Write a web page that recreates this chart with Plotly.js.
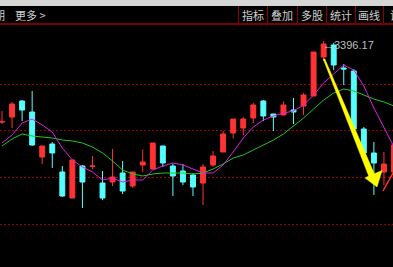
<!DOCTYPE html>
<html>
<head>
<meta charset="utf-8">
<script src="https://cdn.plot.ly/plotly-3.0.1.min.js"></script>
<style>
html,body{margin:0;padding:0;background:#000;}
#chart{width:393px;height:267px;}
</style>
</head>
<body>
<div id="chart"></div>
<script>
// ---- data ----
const days = [0,1,2,3,4,5,6,7,8,9,10,11,12,13,14,15,16,17,18,19,20,21,22,23,24,25,26,27,28,29,30,31,32,33,34,35,36,37,38,39];
const openP  = [3309.61,3314.97,3332.11,3320.32,3272.11,3286.04,3256.04,3228.18,3262.47,3261.93,3244.25,3245.32,3254.97,3241.04,3263.54,3259.25,3283.90,3262.47,3257.11,3252.82,3244.25,3263.54,3277.47,3297.82,3303.18,3313.89,3332.11,3318.18,3317.11,3322.47,3326.75,3337.47,3379.25,3392.11,3367.46,3364.25,3302.11,3276.40,3256.04,3256.04];
const highP  = [3321.39,3331.04,3333.18,3342.82,3283.90,3288.18,3262.47,3268.90,3263.54,3273.18,3257.11,3280.68,3267.82,3256.04,3280.15,3287.11,3283.90,3265.15,3264.61,3254.97,3264.61,3278.54,3299.97,3312.82,3314.97,3329.97,3333.18,3318.18,3331.57,3335.32,3340.68,3384.61,3396.17,3394.25,3371.75,3366.39,3304.25,3288.18,3277.47,3284.97];
const lowP   = [3307.47,3303.18,3310.68,3283.90,3264.61,3260.33,3229.25,3228.18,3217.47,3259.25,3226.04,3241.04,3232.47,3238.90,3256.04,3259.25,3261.40,3230.33,3242.11,3230.33,3220.68,3261.40,3277.47,3291.93,3295.68,3308.54,3310.68,3299.97,3317.11,3307.47,3317.11,3337.47,3374.96,3365.32,3349.25,3302.11,3276.40,3231.40,3242.11,3252.82];
const closeP = [3309.93,3328.89,3322.47,3284.97,3283.90,3276.40,3230.33,3268.90,3245.32,3262.47,3228.18,3250.68,3235.68,3256.04,3266.75,3287.11,3265.68,3251.75,3245.32,3239.97,3261.40,3273.18,3296.75,3312.82,3312.82,3327.82,3316.04,3314.97,3327.82,3320.32,3338.54,3384.61,3393.18,3370.68,3366.39,3302.11,3276.40,3265.68,3264.61,3284.97];
const maShort = [3287.11,3295.68,3308.54,3312.82,3306.39,3298.90,3281.75,3268.90,3261.40,3256.04,3247.47,3249.61,3245.32,3247.47,3247.47,3258.18,3262.47,3265.68,3263.54,3259.25,3254.97,3254.97,3263.54,3277.47,3292.47,3304.25,3311.75,3316.04,3319.25,3321.39,3327.82,3338.54,3351.39,3361.04,3370.68,3365.32,3348.18,3324.61,3303.18,3282.82];
const maLong  = [3283.90,3291.40,3296.75,3294.61,3293.54,3292.47,3290.32,3289.25,3287.11,3282.82,3276.40,3267.82,3258.18,3253.90,3251.75,3253.90,3254.97,3254.97,3254.97,3253.90,3254.97,3259.25,3264.61,3271.04,3274.25,3279.61,3284.97,3290.32,3296.75,3305.32,3313.89,3323.54,3333.18,3340.68,3344.97,3342.82,3338.54,3334.25,3331.04,3326.75];
const gridPrices = [3200,3250,3300,3350];
const maxLabel = "←3396.17";
const maxIndex = 32;
const maxValue = 3396.17;
const leftMenu = ["周期", "更多 >"];
const rightMenu = ["指标","叠加","多股","统计","画线","设置"];

// ---- helpers for the toolbar (paper coordinates of the 393x267 page) ----
const W = 393, H = 267, TOP = 24;
const px = x => x / W;
const py = y => (H - y) / (H - TOP);

const cjk = '"Noto Sans CJK SC", "Noto Sans", sans-serif';
const textColor = '#cfcfcf';

const annotations = [];
annotations.push({xref:'paper', yref:'paper', x:px(7), y:py(15), xanchor:'right', yanchor:'middle',
  text:leftMenu[0], showarrow:false, font:{family:cjk, size:11, color:textColor}});
annotations.push({xref:'paper', yref:'paper', x:px(13), y:py(15), xanchor:'left', yanchor:'middle',
  text:leftMenu[1], showarrow:false, font:{family:cjk, size:11, color:textColor}});
const btnCenters = [252.5, 282, 311.5, 340.5, 369, 401];
rightMenu.forEach((t, i) => {
  annotations.push({xref:'paper', yref:'paper', x:px(btnCenters[i]), y:py(15), xanchor:'center', yanchor:'middle',
    text:t, showarrow:false, font:{family:cjk, size:11, color:textColor}});
});
annotations.push({xref:'x', yref:'y', x:maxIndex, y:maxValue, xanchor:'left', yanchor:'middle',
  xshift:-3, yshift:-4, text:maxLabel, showarrow:false,
  font:{family:'"Liberation Sans", Arial, sans-serif', size:11, color:'#bdbdbd'}});

const shapes = [];
// light strip at the very top
shapes.push({type:'rect', xref:'paper', yref:'paper', x0:0, x1:1, y0:py(6), y1:py(0),
  fillcolor:'#d6d6d6', line:{width:0}, layer:'above'});
// dark red rule under the toolbar
shapes.push({type:'rect', xref:'paper', yref:'paper', x0:0, x1:1, y0:py(25), y1:py(23),
  fillcolor:'#7c0000', line:{width:0}, layer:'above'});
// button separators
[238, 267, 297, 326, 355, 383].forEach(x => {
  shapes.push({type:'line', xref:'paper', yref:'paper', x0:px(x+0.5), x1:px(x+0.5), y0:py(23), y1:py(6),
    line:{color:'#8f0000', width:1}, layer:'above'});
});
// yellow drawn arrow (data coordinates)
shapes.push({type:'path', xref:'x', yref:'y', layer:'above',
  path:'M 31.97 3376.8 L 32.11 3377.4 L 37.04 3254.1 L 37.81 3257.6 L 37.31 3240.0 L 36.12 3249.6 L 36.48 3251.8 Z',
  fillcolor:'#ffff00', line:{color:'#ffff00', width:0.5}});
// thin red drawn line
shapes.push({type:'line', xref:'x', yref:'y', layer:'above',
  x0:37.91, y0:3235.7, x1:39.4, y1:3264.6, line:{color:'#ff3030', width:1.5}});

const traces = [
  {type:'candlestick', x:days, open:openP, high:highP, low:lowP, close:closeP,
   increasing:{line:{color:'#ff3333', width:1}, fillcolor:'#ff3333'},
   decreasing:{line:{color:'#55ffff', width:1}, fillcolor:'#55ffff'},
   whiskerwidth:0, hoverinfo:'skip', showlegend:false},
  {type:'scatter', mode:'lines', x:days, y:maLong, line:{color:'#1ecb1e', width:1}, hoverinfo:'skip', showlegend:false},
  {type:'scatter', mode:'lines', x:days, y:maShort, line:{color:'#e21ee2', width:1}, hoverinfo:'skip', showlegend:false}
];

const layout = {
  width:W, height:H,
  margin:{l:0, r:0, t:TOP, b:0, pad:0},
  paper_bgcolor:'#000', plot_bgcolor:'#000',
  showlegend:false,
  boxgap:0.3,
  xaxis:{range:[-0.2, 38.9], visible:false, rangeslider:{visible:false}, fixedrange:true},
  yaxis:{range:[3154.25, 3414.61], tickmode:'array', tickvals:gridPrices, showticklabels:false,
    ticks:'', showgrid:true, gridcolor:'#9a0000', gridwidth:1, griddash:'2px,2px',
    zeroline:false, showline:false, fixedrange:true},
  annotations:annotations,
  shapes:shapes
};

Plotly.newPlot('chart', traces, layout, {staticPlot:true, displayModeBar:false});
</script>
</body>
</html>
